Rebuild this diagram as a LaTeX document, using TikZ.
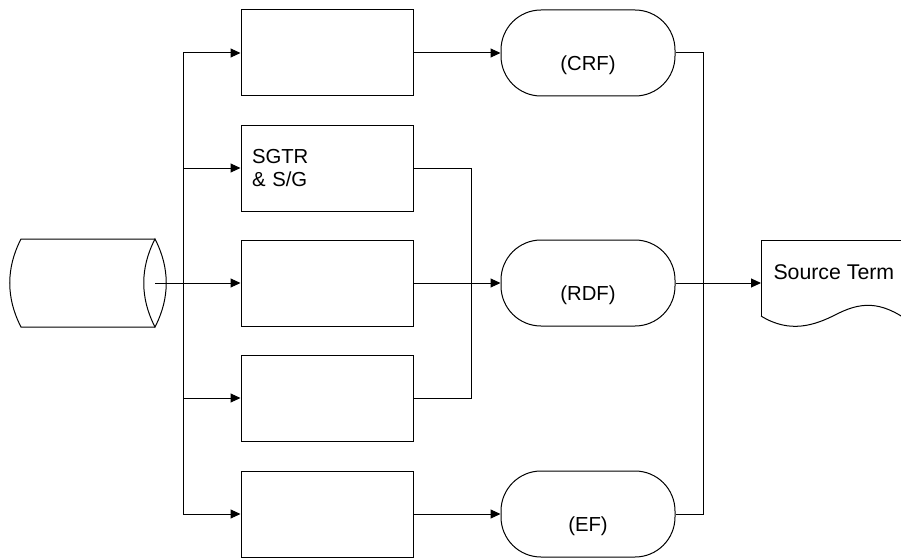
\documentclass[tikz,border=0pt]{standalone}
\usepackage{fontspec}
\setmainfont{Liberation Sans}
\usetikzlibrary{arrows.meta}

\tikzset{
  blk/.style={draw, rectangle, minimum width=172pt, minimum height=86pt,
    text width=150pt, inner sep=11pt, align=left},
  term/.style={draw, rectangle, rounded corners=40pt, minimum width=174pt,
    minimum height=86pt, align=center},
  arr/.style={-{Triangle[length=10pt,width=9pt]}},
}

\begin{document}
\begin{tikzpicture}[x=1pt, y=-1pt, line width=1pt,
    every node/.style={font=\fontsize{20.3}{23}\selectfont}]
  \useasboundingbox (0,0) rectangle (901,559);

  % data store
  \coordinate (db) at (155,283);
  \draw (155,239) -- (21,239) .. controls (6,268) and (6,298) .. (21,327) -- (155,327);
  \draw (155,239) .. controls (170,268) and (170,298) .. (155,327)
                  .. controls (140,298) and (140,268) .. cycle;

  % process boxes
  \node[blk] (b1) at (327,53)  {};
  \node[blk] (b2) at (327,168) {SGTR\\\& S/G};
  \node[blk] (b3) at (327,283) {};
  \node[blk] (b4) at (327,398) {};
  \node[blk] (b5) at (327,514) {};

  % release categories
  \node[term] (crf) at (588,53)  {\strut\\(CRF)};
  \node[term] (rdf) at (588,283) {\strut\\(RDF)};
  \node[term] (ef)  at (588,514) {\strut\\(EF)};

  % output document
  \node[anchor=west, inner sep=12pt, font=\fontsize{21.3}{25}\selectfont]
    (st) at (761,272) {Source Term};
  \draw (761,316) -- (761,240) -- (910,240);
  \draw (761,316) .. controls (790,334) and (815,325) .. (835,315)
                  .. controls (860,302) and (880,300) .. (910,322);

  % fan out
  \coordinate (bus) at (183,283);
  \draw (bus |- b1.west) -- (bus |- b5.west);
  \draw[arr] (db) -- (b3.west);
  \foreach \b in {b1,b2,b4,b5}
    \draw[arr] (bus |- \b.west) -- (\b.west);

  % into categories
  \draw[arr] (b1.east) -- (crf.west);
  \draw[arr] (b3.east) -- (rdf.west);
  \draw[arr] (b5.east) -- (ef.west);
  \draw (b2.east) -- ++(58,0) |- (b4.east);

  % gather
  \coordinate (join) at (703,283);
  \draw (crf.east) -| (join) |- (ef.east);
  \draw[arr] (rdf.east) -- (rdf.east -| st.west);

\end{tikzpicture}
\end{document}
